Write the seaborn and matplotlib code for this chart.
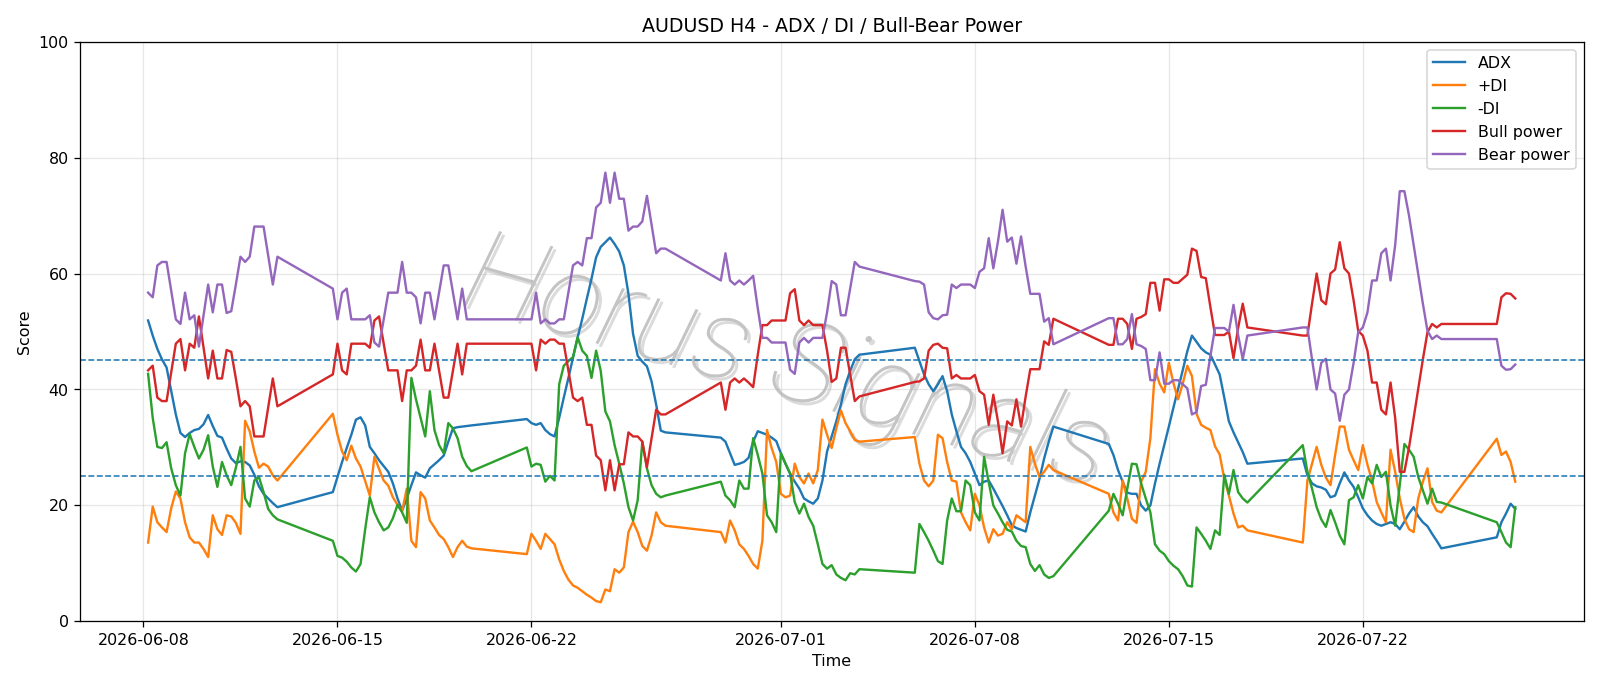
import pandas as pd
import matplotlib
matplotlib.use("Agg")
import matplotlib.pyplot as plt
import matplotlib.dates as mdates
import matplotlib.patheffects as pe
import seaborn as sns

# H4 bars, weekends skipped (the week opens with the Sunday 20:00 bar)
times = pd.date_range("2026-06-08 04:00", "2026-07-27 12:00", freq="4h")
times = times[(times.dayofweek < 5) | ((times.dayofweek == 6) & (times.hour >= 20))]

adx = [
    51.9, 49.3, 47.0, 45.2, 43.8, 39.7, 35.7, 32.5, 31.8, 32.5, 33.0, 33.2, 34.0, 35.6, 33.7, 32.0, 31.7, 29.8, 28.1, 27.3, 27.6, 27.5, 26.9, 25.3, 23.3, 22.0, 21.2, 20.4, 19.7,
    22.3, 24.9, 27.5, 29.9, 32.2, 34.8, 35.2, 33.8, 30.1, 29.0, 27.8, 26.8, 25.8, 23.8, 21.2, 19.1, 21.2, 23.5, 25.7, 25.2, 24.8, 26.4, 27.1, 27.8, 28.6, 31.0, 33.3, 33.5, 33.6, 33.7, 33.8,
    34.9, 34.2, 33.9, 34.2, 33.0, 32.3, 31.9, 35.1, 38.6, 42.0, 45.5, 49.0, 52.2, 55.7, 59.1, 62.8, 64.6, 65.4, 66.2, 65.1, 63.8, 61.4, 56.5, 49.6, 45.8, 44.8, 44.0, 41.4, 37.4, 32.9, 32.6,
    31.7, 31.0, 29.0, 27.0, 27.2, 27.5, 28.2, 31.0, 32.8, 32.5, 32.2, 31.7, 31.1, 29.0, 27.2, 25.5, 24.1, 22.9, 21.2, 20.7, 20.3, 21.2, 24.3, 29.3, 31.9, 34.5, 37.4, 40.9, 43.2, 45.2, 46.0,
    47.2, 44.9, 42.6, 40.9, 39.7, 40.9, 42.3, 39.7, 35.7, 32.8, 30.1, 29.0, 27.5, 25.5, 23.5, 24.1, 24.3, 22.9, 21.4, 19.9, 18.3, 16.6, 16.1, 15.8, 15.5, 18.8, 21.7, 24.6, 28.1, 31.0, 33.6,
    30.6, 28.7, 26.1, 24.1, 22.2, 22.0, 22.0, 20.0, 19.1, 20.0, 23.8, 27.2, 30.4, 33.6, 36.9, 40.1, 43.3, 46.6, 49.3, 48.2, 47.1, 46.4, 46.0, 44.3, 42.6, 38.6, 34.5, 32.6, 30.9, 29.2, 27.2,
    28.1, 25.2, 23.8, 23.3, 23.1, 22.7, 21.4, 21.7, 23.8, 25.7, 24.3, 23.2, 21.4, 19.5, 18.3, 17.4, 16.8, 16.5, 16.8, 17.1, 16.8, 15.9, 17.2, 18.6, 19.7, 18.1, 17.1, 16.4, 15.1, 13.9, 12.6,
    14.5, 17.1, 18.6, 20.3, 19.4,
]
plus_di = [
    13.6, 19.8, 17.1, 16.2, 15.4, 19.5, 22.4, 21.2, 17.1, 14.5, 13.6, 13.6, 12.5, 11.1, 18.3, 15.9, 14.9, 18.3, 18.1, 17.0, 15.1, 34.6, 32.8, 29.3, 26.5, 27.2, 26.7, 25.2, 24.3,
    35.8, 32.2, 29.3, 27.8, 30.3, 28.1, 26.7, 24.2, 21.7, 28.4, 26.3, 24.3, 23.4, 21.4, 20.1, 19.0, 22.9, 13.9, 12.8, 22.3, 21.2, 17.4, 16.2, 14.9, 14.2, 12.8, 11.1, 12.8, 13.9, 12.9, 12.6,
    11.6, 15.1, 13.9, 12.5, 15.1, 14.2, 13.3, 10.7, 8.7, 7.2, 6.2, 5.8, 5.2, 4.6, 4.1, 3.5, 3.3, 5.5, 5.2, 9.0, 8.4, 9.3, 15.4, 17.2, 15.4, 13.0, 12.2, 14.8, 18.8, 17.1, 16.5,
    15.4, 13.6, 17.4, 15.7, 13.3, 12.5, 11.3, 9.9, 9.1, 13.9, 33.0, 29.9, 27.5, 22.0, 21.4, 21.7, 27.2, 24.9, 23.8, 25.5, 23.8, 26.1, 34.8, 32.2, 29.9, 33.3, 36.4, 34.2, 32.8, 31.3, 31.0,
    31.8, 27.2, 24.3, 23.3, 24.3, 32.2, 31.6, 27.5, 24.3, 24.1, 18.8, 17.1, 15.7, 22.0, 20.0, 16.2, 13.6, 15.9, 14.8, 15.1, 17.1, 15.9, 18.3, 17.7, 17.1, 30.1, 27.2, 24.9, 25.8, 27.0, 26.1,
    22.0, 18.8, 17.4, 24.3, 21.2, 17.7, 17.0, 24.1, 25.8, 31.6, 43.5, 41.0, 39.5, 44.6, 41.1, 38.3, 41.0, 44.1, 42.3, 35.8, 33.9, 33.4, 33.0, 30.2, 28.8, 24.6, 21.7, 18.6, 16.2, 16.5, 15.7,
    13.6, 24.3, 27.2, 30.1, 27.0, 24.8, 23.5, 28.7, 33.6, 33.6, 29.6, 27.8, 26.1, 30.4, 27.0, 24.3, 20.6, 18.8, 17.1, 29.6, 25.8, 21.2, 17.7, 15.9, 15.4, 21.2, 24.1, 26.4, 20.6, 19.1, 18.8,
    31.5, 28.7, 29.3, 27.5, 24.1,
]
minus_di = [
    42.7, 35.1, 30.1, 29.9, 30.9, 26.4, 23.5, 21.7, 29.0, 32.3, 30.1, 28.1, 29.6, 32.1, 26.7, 23.2, 27.5, 25.2, 23.5, 26.5, 30.1, 21.2, 19.8, 24.3, 24.9, 22.3, 19.4, 18.3, 17.6,
    13.9, 11.3, 11.0, 10.3, 9.3, 8.6, 9.9, 15.9, 21.4, 18.8, 17.1, 15.7, 16.2, 17.8, 20.1, 18.8, 17.0, 42.0, 38.3, 35.1, 31.9, 39.7, 33.0, 30.4, 29.0, 34.2, 33.3, 31.6, 28.4, 26.8, 25.9,
    30.0, 26.7, 27.2, 27.0, 24.1, 25.1, 24.3, 40.9, 44.1, 44.9, 45.6, 49.0, 46.7, 45.8, 42.0, 46.7, 43.2, 36.2, 34.5, 30.4, 27.2, 23.8, 19.7, 17.4, 20.9, 31.0, 26.4, 23.5, 22.0, 21.4, 21.7,
    24.1, 21.7, 20.9, 19.7, 24.3, 22.9, 22.9, 31.6, 28.7, 25.5, 18.3, 17.1, 15.4, 29.0, 27.2, 25.5, 20.6, 18.6, 20.3, 18.0, 16.5, 13.3, 9.9, 9.1, 9.7, 8.1, 7.5, 7.1, 8.3, 8.1, 9.0,
    8.4, 16.8, 15.4, 13.9, 12.2, 10.4, 9.9, 17.4, 21.2, 19.0, 19.0, 24.3, 23.5, 18.8, 17.4, 28.4, 24.0, 20.0, 18.6, 17.1, 15.8, 15.5, 13.9, 13.0, 12.8, 9.9, 8.7, 9.7, 8.1, 7.5, 7.8,
    19.1, 22.0, 20.3, 18.3, 22.9, 27.2, 27.1, 23.8, 21.2, 18.8, 13.3, 12.2, 11.6, 10.4, 9.6, 9.0, 7.8, 6.2, 6.0, 16.2, 15.1, 13.9, 12.5, 15.7, 14.9, 25.3, 22.0, 26.1, 22.3, 21.2, 20.5,
    30.4, 25.8, 22.9, 19.7, 17.6, 16.3, 19.2, 17.1, 14.8, 13.3, 20.9, 21.4, 23.5, 21.2, 24.9, 23.8, 27.0, 24.9, 25.8, 20.0, 16.5, 23.5, 30.6, 29.6, 28.4, 24.9, 22.6, 20.3, 22.9, 20.6, 20.5,
    17.1, 15.4, 13.6, 12.8, 19.7,
]
bull = [
    43.3, 44.1, 38.6, 38.0, 38.0, 43.0, 47.9, 48.7, 43.3, 47.9, 47.2, 52.6, 47.2, 41.9, 46.7, 41.9, 41.9, 46.8, 46.5, 41.9, 37.1, 38.0, 37.1, 31.9, 31.9, 31.9, 36.9, 41.9, 37.1,
    42.6, 47.9, 43.3, 42.6, 47.9, 47.9, 47.9, 47.9, 47.2, 51.9, 52.6, 47.9, 43.3, 43.3, 43.3, 38.0, 43.3, 43.3, 44.1, 48.6, 43.3, 43.3, 47.9, 43.3, 38.6, 38.6, 43.2, 47.9, 42.6, 47.9, 47.9,
    47.9, 47.9, 43.3, 48.6, 47.9, 48.6, 48.6, 47.9, 47.9, 43.2, 38.6, 38.0, 38.6, 33.9, 33.9, 28.6, 27.8, 22.6, 27.8, 22.6, 27.1, 27.1, 32.6, 31.9, 31.9, 31.0, 26.6, 31.6, 36.5, 35.7, 35.7,
    41.2, 36.5, 41.2, 41.9, 41.2, 41.9, 41.2, 40.4, 46.0, 51.1, 51.1, 51.9, 51.9, 51.9, 51.9, 56.6, 57.3, 51.9, 51.1, 51.9, 51.1, 51.1, 51.1, 46.7, 41.3, 41.9, 47.2, 47.2, 42.6, 38.0, 38.8,
    41.3, 41.4, 41.9, 46.7, 47.7, 47.9, 47.2, 47.1, 41.9, 42.5, 41.9, 41.9, 41.9, 42.5, 39.7, 39.1, 33.9, 39.1, 34.5, 29.0, 34.5, 33.8, 38.3, 33.6, 38.8, 43.5, 43.5, 43.5, 48.3, 47.7, 52.2,
    47.7, 47.7, 52.2, 52.2, 51.3, 47.0, 52.2, 52.5, 53.0, 58.4, 58.4, 53.6, 59.0, 59.0, 58.4, 58.4, 59.1, 59.8, 64.3, 63.9, 59.4, 59.2, 54.2, 49.4, 49.4, 49.4, 50.0, 45.4, 50.6, 54.8, 50.7,
    49.3, 49.3, 54.8, 60.0, 55.4, 54.7, 60.0, 60.7, 65.4, 60.9, 60.0, 55.4, 50.1, 49.3, 46.7, 41.2, 41.2, 36.5, 35.7, 41.2, 35.1, 25.8, 25.8, 30.0, 35.1, 40.2, 45.2, 49.9, 51.3, 50.7, 51.3,
    51.3, 55.9, 56.6, 56.5, 55.7,
]
bear = [
    56.7, 55.9, 61.4, 62.0, 62.0, 57.0, 52.1, 51.3, 56.7, 52.1, 52.8, 47.4, 52.8, 58.1, 53.3, 58.1, 58.1, 53.2, 53.5, 58.1, 62.9, 62.0, 62.9, 68.1, 68.1, 68.1, 63.1, 58.1, 62.9,
    57.4, 52.1, 56.7, 57.4, 52.1, 52.1, 52.1, 52.1, 52.8, 48.1, 47.4, 52.1, 56.7, 56.7, 56.7, 62.0, 56.7, 56.7, 55.9, 51.4, 56.7, 56.7, 52.1, 56.7, 61.4, 61.4, 56.8, 52.1, 57.4, 52.1, 52.1,
    52.1, 52.1, 56.7, 51.4, 52.1, 51.4, 51.4, 52.1, 52.1, 56.8, 61.4, 62.0, 61.4, 66.1, 66.1, 71.4, 72.2, 77.4, 72.2, 77.4, 72.9, 72.9, 67.4, 68.1, 68.1, 69.0, 73.4, 68.4, 63.5, 64.3, 64.3,
    58.8, 63.5, 58.8, 58.1, 58.8, 58.1, 58.8, 59.6, 54.0, 48.9, 48.9, 48.1, 48.1, 48.1, 48.1, 43.4, 42.7, 48.1, 48.9, 48.1, 48.9, 48.9, 48.9, 53.3, 58.7, 58.1, 52.8, 52.8, 57.4, 62.0, 61.2,
    58.7, 58.6, 58.1, 53.3, 52.3, 52.1, 52.8, 52.9, 58.1, 57.5, 58.1, 58.1, 58.1, 57.5, 60.3, 60.9, 66.1, 60.9, 65.5, 71.0, 65.5, 66.2, 61.7, 66.4, 61.2, 56.5, 56.5, 56.5, 51.7, 52.3, 47.8,
    52.3, 52.3, 47.8, 47.8, 48.7, 53.0, 47.8, 47.5, 47.0, 41.6, 41.6, 46.4, 41.0, 41.0, 41.6, 41.6, 40.9, 40.2, 35.7, 36.1, 40.6, 40.8, 45.8, 50.6, 50.6, 50.6, 50.0, 54.6, 49.4, 45.2, 49.3,
    50.7, 50.7, 45.2, 40.0, 44.6, 45.3, 40.0, 39.3, 34.6, 39.1, 40.0, 44.6, 49.9, 50.7, 53.3, 58.8, 58.8, 63.5, 64.3, 58.8, 64.9, 74.2, 74.2, 70.0, 64.9, 59.8, 54.8, 50.1, 48.7, 49.3, 48.7,
    48.7, 44.1, 43.4, 43.5, 44.3,
]

series = [("ADX", adx, "tab:blue"), ("+DI", plus_di, "tab:orange"), ("-DI", minus_di, "tab:green"),
          ("Bull power", bull, "tab:red"), ("Bear power", bear, "tab:purple")]
for name, vals, _ in series:
    assert len(vals) == len(times), (name, len(vals), len(times))

fig, ax = plt.subplots(figsize=(14, 6), dpi=114.34)

for name, vals, col in series:
    sns.lineplot(x=times, y=vals, ax=ax, label=name, color=col, linewidth=1.5)

ax.axhline(25, linestyle="--", linewidth=1, color="tab:blue")
ax.axhline(45, linestyle="--", linewidth=1, color="tab:blue")

# watermark: thin light-grey letters with a soft shadow
ax.text(0.47, 0.44, "Horus Signals", transform=ax.transAxes, fontsize=72,
        family=["Roboto", "DejaVu Sans"], fontweight=100, style="italic",
        color="#c4c4c4", rotation=-16, ha="center", va="center", zorder=0,
        path_effects=[pe.SimplePatchShadow(offset=(2, -2), shadow_rgbFace="#9a9a9a", alpha=0.35),
                      pe.Normal()])

ax.set_ylim(0, 100)
ax.xaxis.set_major_locator(mdates.DayLocator(bymonthday=[1, 8, 15, 22]))
ax.xaxis.set_major_formatter(mdates.DateFormatter("%Y-%m-%d"))
ax.grid(True, alpha=0.3)
ax.set_title("AUDUSD H4 - ADX / DI / Bull-Bear Power")
ax.set_xlabel("Time")
ax.set_ylabel("Score")
ax.legend(loc="upper right")

plt.tight_layout()
plt.savefig("out.png", dpi=114.34)
